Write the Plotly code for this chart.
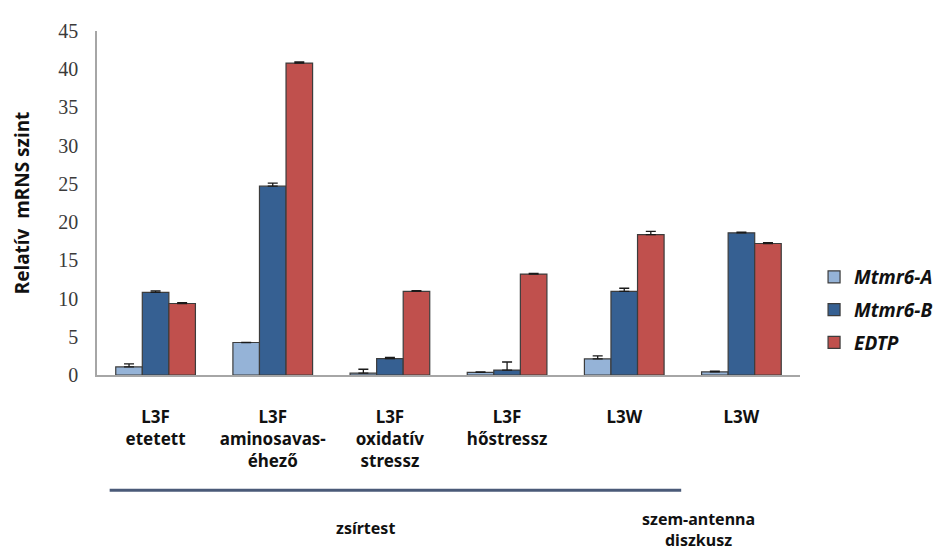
import plotly.graph_objects as go

categories = ["L3F<br>etetett", "L3F<br>aminosavas-<br>éhező", "L3F<br>oxidatív<br>stressz",
              "L3F<br>hőstressz", "L3W", "L3W"]
series_names = ["Mtmr6-A", "Mtmr6-B", "EDTP"]
mtmr6a = [1.05, 4.25, 0.25, 0.35, 2.1, 0.4]
mtmr6a_err = [0.4, 0.0, 0.5, 0.05, 0.4, 0.1]
mtmr6b = [10.8, 24.7, 2.15, 0.65, 10.95, 18.6]
mtmr6b_err = [0.2, 0.4, 0.15, 1.05, 0.4, 0.1]
edtp = [9.35, 40.8, 10.95, 13.2, 18.35, 17.2]
edtp_err = [0.1, 0.15, 0.1, 0.1, 0.45, 0.1]
y_ticks = [0, 5, 10, 15, 20, 25, 30, 35, 40, 45]

colors = ["#95b3d7", "#366092", "#c0504d"]
values = [mtmr6a, mtmr6b, edtp]
errors = [mtmr6a_err, mtmr6b_err, edtp_err]

xpos = list(range(len(categories)))

fig = go.Figure()
for i, name in enumerate(series_names):
    fig.add_trace(go.Bar(
        x=xpos, y=values[i], name=f"<b><i>{name}</i></b>",
        marker=dict(color=colors[i], line=dict(color="#3c3c3c", width=1.2)),
        error_y=dict(type="data", symmetric=False, array=errors[i],
                     arrayminus=[0] * len(errors[i]), color="#1a1a1a",
                     thickness=1.3, width=5),
        legendgroup=f"g{i}",
    ))

# page body has an 8px offset, so margins compensate
fig.update_layout(
    width=947, height=549,
    margin=dict(l=89, r=155, t=18, b=182),
    paper_bgcolor="white", plot_bgcolor="white",
    barmode="group", bargap=0.32, bargroupgap=0,
    showlegend=True,
    legend=dict(x=1.02, y=0.34, xanchor="left", yanchor="top",
                font=dict(family="Noto Sans", size=19, color="#111111"),
                tracegroupgap=5, itemwidth=30, bgcolor="rgba(0,0,0,0)"),
    font=dict(family="Noto Sans", color="#111111"),
)

fig.update_xaxes(
    range=[-0.5, 5.5], tickvals=xpos, ticktext=[f"<b>{c}</b>" for c in categories],
    tickfont=dict(family="Noto Sans", size=17, color="#111111"),
    showline=True, linecolor="#a6a6a6", linewidth=1.5,
    showgrid=False, zeroline=False, ticks="", ticklabelstandoff=26,
)
fig.update_yaxes(
    range=[0, 45], tickvals=y_ticks,
    tickfont=dict(family="Liberation Serif", size=20, color="#3a3a3a"),
    showline=True, linecolor="#a6a6a6", linewidth=1.5,
    showgrid=False, zeroline=False, ticks="", ticklabelstandoff=13,
    title=dict(text="<b>Relatív  mRNS szint</b>",
               font=dict(family="Noto Sans", size=19, color="#111111"), standoff=24),
)

fig.add_shape(type="line", xref="paper", yref="paper",
              x0=0.018, x1=0.831, y0=-0.335, y1=-0.335,
              line=dict(color="#4a5a78", width=3))
fig.add_annotation(xref="paper", yref="paper", x=(365 - 97) / 703, y=(375 - 543) / 349,
                   text="<b>zsírtest</b>", showarrow=False,
                   font=dict(family="Noto Sans", size=16, color="#111111"))
fig.add_annotation(xref="paper", yref="paper", x=(757 - 97) / 703, y=(375 - 508) / 349,
                   yanchor="top", text="<b>szem-antenna<br>diszkusz</b>", showarrow=False,
                   font=dict(family="Noto Sans", size=16, color="#111111"))

fig.write_html("out.html")
